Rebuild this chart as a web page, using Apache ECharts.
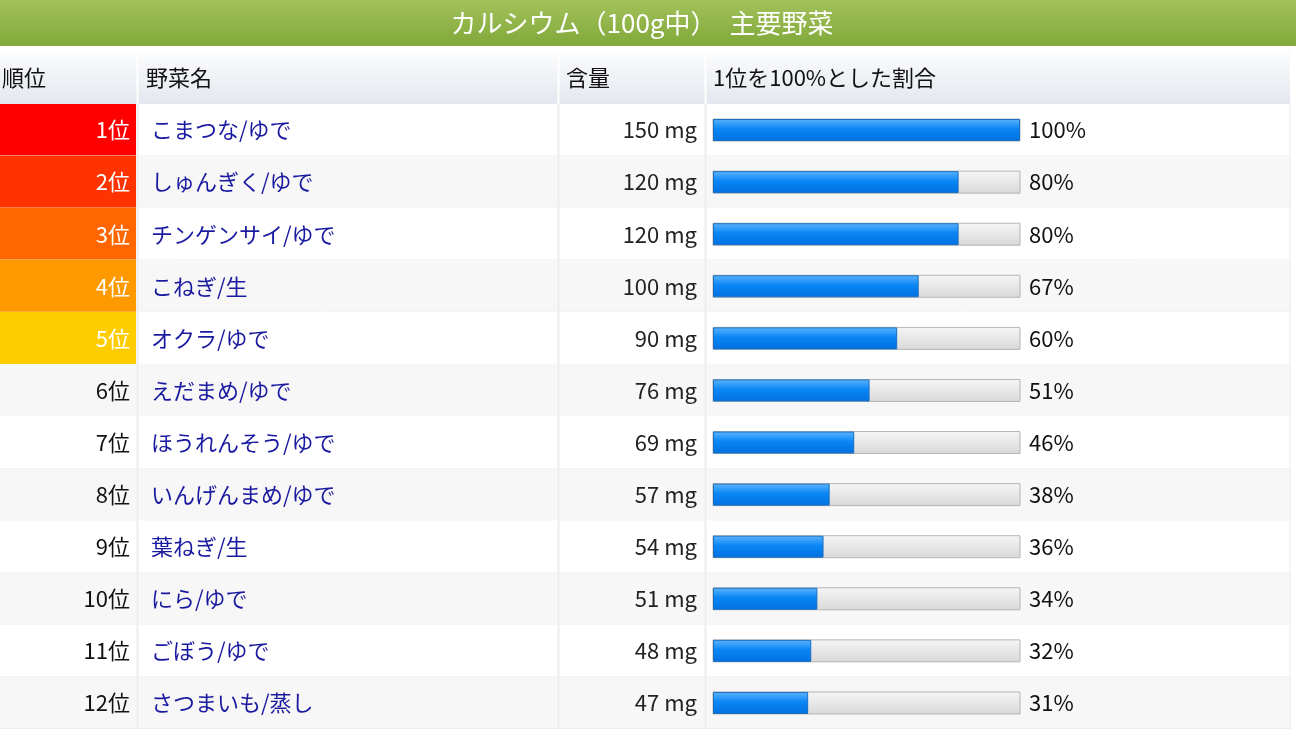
<!DOCTYPE html>
<html>
<head>
<meta charset="utf-8">
<script src="https://cdn.jsdelivr.net/npm/echarts@6/dist/echarts.min.js"></script>
<style>
    html,body{margin:0;padding:0;background:#fff;}
    #main{width:1296px;height:729px;}
</style>
</head>
<body>
<div id="main"></div>
<script type="text/javascript">
    // データ
    const ranks = ['1位','2位','3位','4位','5位','6位','7位','8位','9位','10位','11位','12位'];
    const names = ['こまつな/ゆで','しゅんぎく/ゆで','チンゲンサイ/ゆで','こねぎ/生','オクラ/ゆで','えだまめ/ゆで',
        'ほうれんそう/ゆで','いんげんまめ/ゆで','葉ねぎ/生','にら/ゆで','ごぼう/ゆで','さつまいも/蒸し'];
    const amounts = [150,120,120,100,90,76,69,57,54,51,48,47];
    const ratios = [100,80,80,67,60,51,46,38,36,34,32,31];
    const rankColors = ['#ff0000','#ff3300','#ff6600','#ff9900','#ffcc00'];

    const font = '"Noto Sans CJK JP", "Noto Sans", sans-serif';
    const rowH = 53;

    let myChart = echarts.init(document.getElementById('main'));

    let option = {
        animation: false,
        grid: {left: 713, width: 307, top: 104, height: rowH * ranks.length},
        xAxis: {type: 'value', min: 0, max: 100, show: false},
        yAxis: {type: 'category', data: ranks, inverse: true, show: false},
        graphic: [
            // タイトル
            {type: 'rect', shape: {x: 0, y: 0, width: 1296, height: 46}, z: 10,
                style: {fill: new echarts.graphic.LinearGradient(0, 0, 0, 1, [
                    {offset: 0, color: '#a3c25a'}, {offset: 1, color: '#80a83a'}])}},
            {type: 'text', x: 642, y: 23, z: 11,
                style: {text: 'カルシウム（100g中）　主要野菜', fill: '#fff', font: '26px ' + font,
                    align: 'center', verticalAlign: 'middle'}},
            // ヘッダー
            {type: 'rect', shape: {x: 0, y: 52, width: 1290, height: 52}, z: 10,
                style: {fill: new echarts.graphic.LinearGradient(0, 0, 0, 1, [
                    {offset: 0, color: '#fbfcfd'}, {offset: 1, color: '#e3e7ee'}])}},
            {type: 'text', x: 2, y: 78, z: 11, style: {text: '順位', fill: '#111', font: '22px ' + font, verticalAlign: 'middle'}},
            {type: 'text', x: 146, y: 78, z: 11, style: {text: '野菜名', fill: '#111', font: '22px ' + font, verticalAlign: 'middle'}},
            {type: 'text', x: 566, y: 78, z: 11, style: {text: '含量', fill: '#111', font: '22px ' + font, verticalAlign: 'middle'}},
            {type: 'text', x: 713, y: 78, z: 11, style: {text: '1位を100%とした割合', fill: '#111', font: '22px ' + font, verticalAlign: 'middle'}},
            {type: 'line', shape: {x1: 137.5, y1: 52, x2: 137.5, y2: 104}, z: 11, style: {stroke: '#fff', lineWidth: 2}},
            {type: 'line', shape: {x1: 558.5, y1: 52, x2: 558.5, y2: 104}, z: 11, style: {stroke: '#fff', lineWidth: 2}},
            {type: 'line', shape: {x1: 705.5, y1: 52, x2: 705.5, y2: 104}, z: 11, style: {stroke: '#fff', lineWidth: 2}}
        ],
        series: [
            {
                // 行・テキスト
                type: 'custom',
                clip: false,
                z: 1,
                data: ranks.map((r, i) => [i]),
                renderItem: function (params, api) {
                    const i = api.value(0);
                    const yc = api.coord([0, i])[1];
                    const top = yc - rowH / 2;
                    const children = [
                        {type: 'rect', shape: {x: 0, y: top, width: 1290, height: rowH},
                            style: {fill: i % 2 === 0 ? '#ffffff' : '#f7f7f7'}},
                        {type: 'line', shape: {x1: 0, y1: top + rowH - 0.5, x2: 1290, y2: top + rowH - 0.5},
                            style: {stroke: '#e6e6e6', lineWidth: 1}},
                        {type: 'line', shape: {x1: 137.5, y1: top, x2: 137.5, y2: top + rowH}, style: {stroke: '#ececec', lineWidth: 2}},
                        {type: 'line', shape: {x1: 558.5, y1: top, x2: 558.5, y2: top + rowH}, style: {stroke: '#ececec', lineWidth: 2}},
                        {type: 'line', shape: {x1: 705.5, y1: top, x2: 705.5, y2: top + rowH}, style: {stroke: '#ececec', lineWidth: 2}},
                        {type: 'line', shape: {x1: 1290, y1: top, x2: 1290, y2: top + rowH}, style: {stroke: '#ececec', lineWidth: 1}}
                    ];
                    if (i < rankColors.length) {
                        children.push({type: 'rect', shape: {x: 0, y: top, width: 136, height: rowH - 1},
                            style: {fill: rankColors[i]}});
                    }
                    children.push(
                        {type: 'text', x: 130, y: yc, style: {text: ranks[i], fill: i < rankColors.length ? '#fff' : '#111',
                            font: '22px ' + font, align: 'right', verticalAlign: 'middle'}},
                        {type: 'text', x: 151, y: yc, style: {text: names[i], fill: '#1a1aa0',
                            font: '22px ' + font, verticalAlign: 'middle'}},
                        {type: 'text', x: 697, y: yc, style: {text: amounts[i] + ' mg', fill: '#222',
                            font: '22px ' + font, align: 'right', verticalAlign: 'middle'}},
                        {type: 'text', x: 1029, y: yc, style: {text: ratios[i] + '%', fill: '#111',
                            font: '22px ' + font, verticalAlign: 'middle'}}
                    );
                    return {type: 'group', children: children};
                }
            },
            {
                type: 'bar',
                z: 2,
                barWidth: 22,
                data: ratios,
                showBackground: true,
                backgroundStyle: {
                    color: new echarts.graphic.LinearGradient(0, 0, 0, 1, [
                        {offset: 0, color: '#f6f6f6'}, {offset: 1, color: '#d8d8d8'}]),
                    borderColor: '#b5b5b5',
                    borderWidth: 1
                },
                itemStyle: {
                    color: new echarts.graphic.LinearGradient(0, 0, 0, 1, [
                        {offset: 0, color: '#5cb4ff'}, {offset: 0.45, color: '#0a86f5'}, {offset: 1, color: '#0070e0'}]),
                    borderColor: '#1a6fc0',
                    borderWidth: 1
                }
            }
        ]
    };
    myChart.setOption(option);
</script>
</body>
</html>
